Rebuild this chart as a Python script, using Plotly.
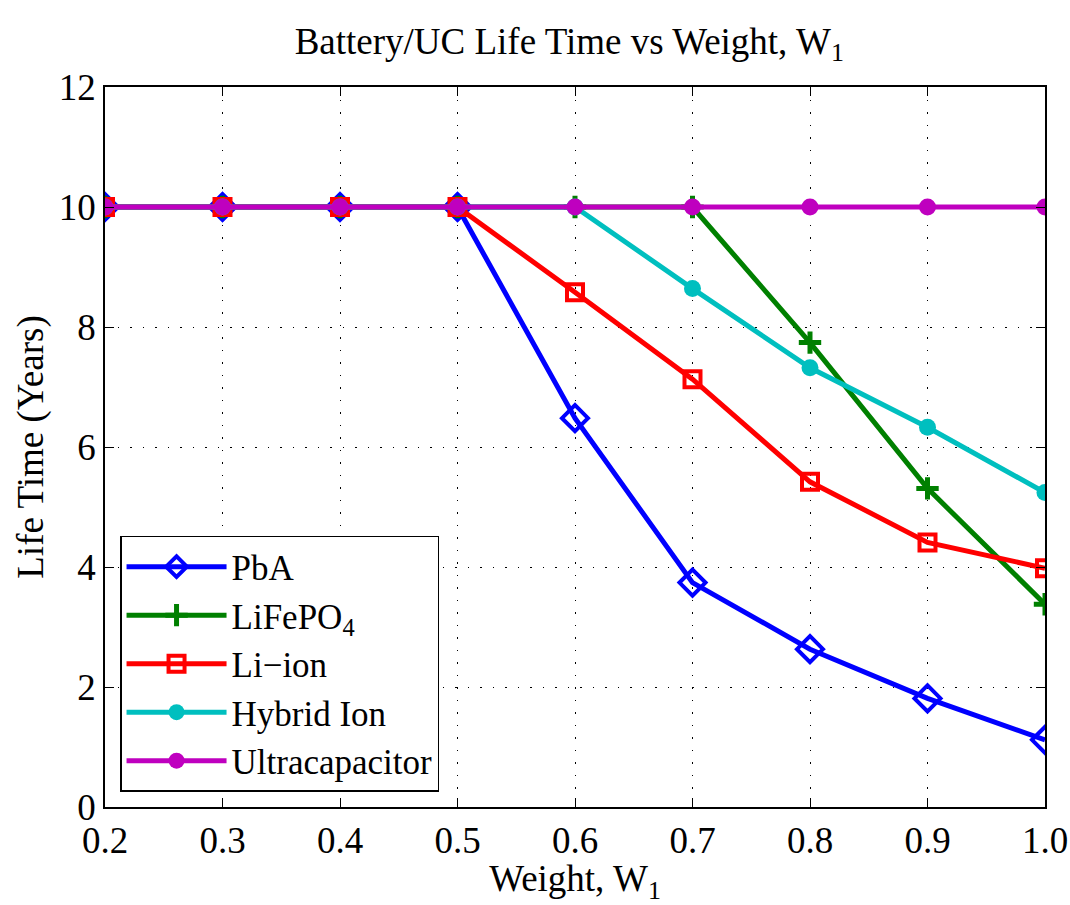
import plotly.graph_objects as go

weights = [0.2, 0.3, 0.4, 0.5, 0.6, 0.7, 0.8, 0.9, 1.0]
pba = [10, 10, 10, 10, 6.48, 3.74, 2.63, 1.81, 1.12]
lifepo4 = [10, 10, 10, 10, 10, 10, 7.74, 5.31, 3.38]
li_ion = [10, 10, 10, 10, 8.58, 7.13, 5.42, 4.41, 3.98]
hybrid_ion = [10, 10, 10, 10, 10, 8.64, 7.32, 6.33, 5.24]
ultracap = [10, 10, 10, 10, 10, 10, 10, 10, 10]

x_ticks = [0.2, 0.3, 0.4, 0.5, 0.6, 0.7, 0.8, 0.9, 1.0]
x_tick_labels = ["0.2", "0.3", "0.4", "0.5", "0.6", "0.7", "0.8", "0.9", "1.0"]
y_ticks = [0, 2, 4, 6, 8, 10, 12]

FONT = "Liberation Serif, Times New Roman, serif"
FS = 37

series = [
    ("PbA", pba, "#0000ff", dict(symbol="diamond-open", size=20, line=dict(width=4))),
    ("LiFePO<sub>4</sub>", lifepo4, "#008000", dict(symbol="cross-thin-open", size=16, line=dict(width=5))),
    ("Li\u2212ion", li_ion, "#ff0000", dict(symbol="square-open", size=16, line=dict(width=4))),
    ("Hybrid Ion", hybrid_ion, "#00bfbf", dict(symbol="circle", size=17)),
    ("Ultracapacitor", ultracap, "#bf00bf", dict(symbol="circle", size=17)),
]

fig = go.Figure()
for name, vals, color, mk in series:
    mk = dict(mk)
    mk["color"] = color
    if "line" in mk:
        mk["line"] = dict(mk["line"], color=color)
    fig.add_trace(go.Scatter(
        x=weights, y=vals, name=name, mode="lines+markers",
        line=dict(color=color, width=5), marker=mk,
    ))

axis_common = dict(
    showline=True, linecolor="black", linewidth=1.5, mirror="ticks",
    ticks="inside", ticklen=9, tickcolor="black", tickwidth=1,
    showgrid=True, gridcolor="black", gridwidth=1, griddash="1.5px,11px",
    zeroline=False, automargin=False,
    tickfont=dict(family=FONT, size=FS, color="black"),
)

fig.update_xaxes(
    range=[0.2, 1.0], tickvals=x_ticks, ticktext=x_tick_labels,
    title=dict(text="Weight, W<sub>1</sub>", font=dict(family=FONT, size=FS, color="black"), standoff=0),
    **axis_common,
)
fig.update_yaxes(
    range=[0, 12], tickvals=y_ticks,
    title=dict(text="Life Time (Years)", font=dict(family=FONT, size=FS, color="black"), standoff=4),
    **axis_common,
)

fig.update_layout(
    width=1070, height=905,
    margin=dict(l=105, r=25, t=87, b=98),
    paper_bgcolor="white", plot_bgcolor="white",
    title=dict(text="Battery/UC Life Time vs Weight, W<sub>1</sub>", x=0.532, xanchor="center",
               y=0.955, yanchor="middle", font=dict(family=FONT, size=FS, color="black")),
    legend=dict(x=0.016, y=0.021, xanchor="left", yanchor="bottom",
                bgcolor="white", bordercolor="black", borderwidth=1.5,
                font=dict(family=FONT, size=35, color="black"),
                itemwidth=100, tracegroupgap=0),
    showlegend=True,
)

fig.write_html(
    "out.html",
    config={"displayModeBar": False},
    post_script="document.body.style.margin='0';document.body.style.overflow='hidden';",
)
